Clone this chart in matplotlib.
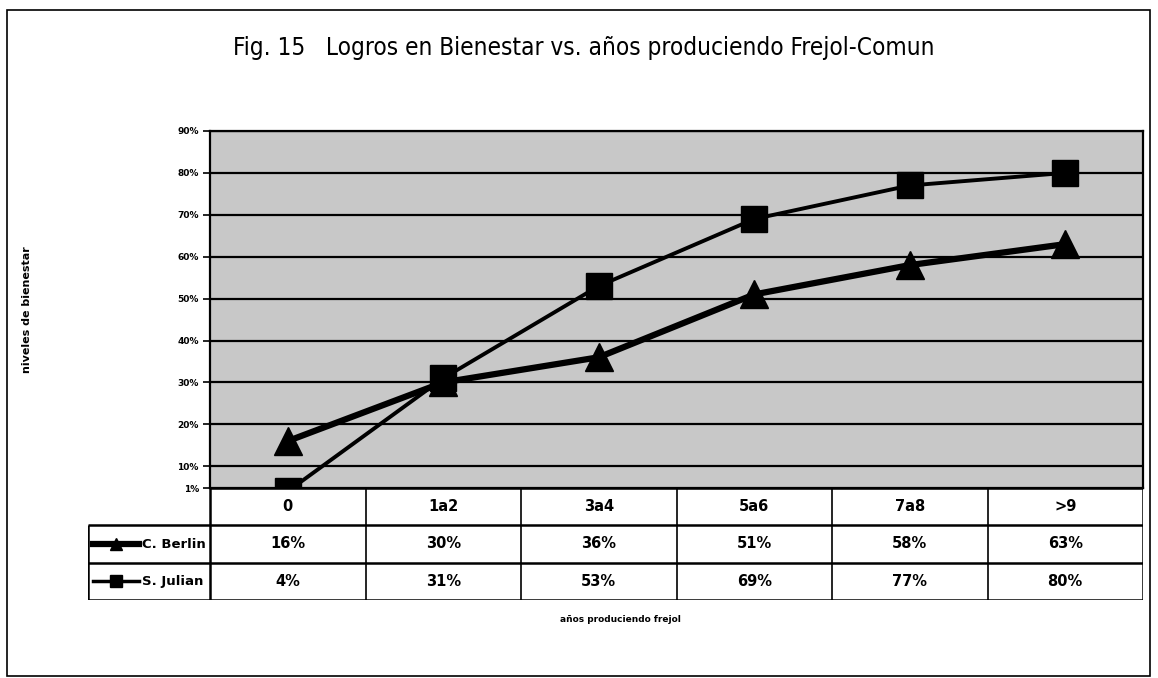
import numpy as np
import matplotlib.pyplot as plt
from matplotlib.lines import Line2D
from matplotlib.patches import Rectangle
from matplotlib import font_manager

categories = ['0', '1a2', '3a4', '5a6', '7a8', '>9']
berlin = [16, 30, 36, 51, 58, 63]
julian = [4, 31, 53, 69, 77, 80]
series_names = ['C. Berlin', 'S. Julian']
yticks = [10, 20, 30, 40, 50, 60, 70, 80, 90]
y_bottom = 4.8

names = {f.name for f in font_manager.fontManager.ttflist}
condensed = [f for f in font_manager.fontManager.ttflist
             if 'Narrow' in f.name or 'Condensed' in f.name or f.stretch in ('condensed', 'semi-condensed')]
if 'Liberation Sans Narrow' in names:
    title_font = dict(family='Liberation Sans Narrow')
elif condensed:
    title_font = dict(family=condensed[0].name, stretch=condensed[0].stretch)
else:
    title_font = dict(family='DejaVu Sans', stretch='condensed')

W, H = 1158, 678
fig = plt.figure(figsize=(W / 100, H / 100), dpi=100)


def fx(px):
    return px / W


def fy(py):
    return 1 - py / H


# outer frame
fig.patches.append(Rectangle((fx(7), fy(676)), fx(1150) - fx(7), fy(10) - fy(676),
                             transform=fig.transFigure, fill=False, lw=1.2, ec='black'))

fig.text(fx(584), fy(48), 'Fig. 15   Logros en Bienestar vs. años produciendo Frejol-Comun',
         ha='center', va='center', fontsize=17.5, **title_font)

# plot area
ax = fig.add_axes([fx(210), fy(488), fx(1143) - fx(210), fy(131) - fy(488)])
ax.set_facecolor('#c8c8c8')
x = np.arange(len(categories))
ax.set_xlim(-0.5, len(categories) - 0.5)
ax.set_ylim(y_bottom, 90)
for t in yticks:
    ax.axhline(t, color='black', lw=1.6, zorder=1)
ax.plot(x, berlin, color='black', lw=4.5, marker='^', markersize=20, zorder=3)
ax.plot(x, julian, color='black', lw=2.8, marker='s', markersize=19, zorder=3)
ax.set_yticks([y_bottom] + yticks)
ax.set_yticklabels(['1%'] + ['%d%%' % t for t in yticks], fontsize=6.5, fontweight='bold')
ax.tick_params(axis='y', length=5, width=1.2, pad=3)
ax.set_xticks([])
for s in ax.spines.values():
    s.set_linewidth(1.6)

# data table below the plot
head_w = (210 - 88) / ((1143 - 210) / len(categories))
tab = fig.add_axes([fx(88), fy(600), fx(1143) - fx(88), fy(488) - fy(600)])
tab.set_xlim(-0.5 - head_w, len(categories) - 0.5)
tab.set_ylim(0, 3)
tab.axis('off')
left = -0.5 - head_w
right = len(categories) - 0.5
kw = dict(color='black', lw=1.8, solid_capstyle='butt')
tab.plot([-0.5, right], [3, 3], **kw)
tab.plot([left, right], [2, 2], **kw)
tab.plot([left, right], [1, 1], **kw)
tab.plot([left, right], [0, 0], **kw)
tab.plot([left, left], [0, 2], **kw)
tab.plot([-0.5, -0.5], [0, 3], **kw)
tab.plot([right, right], [0, 3], **kw)
for i in range(1, len(categories)):
    tab.plot([i - 0.5, i - 0.5], [0, 3], color='black', lw=1.2)

for i, c in enumerate(categories):
    tab.text(i, 2.5, c, ha='center', va='center', fontsize=10.5, fontweight='bold')
    tab.text(i, 1.5, '%d%%' % berlin[i], ha='center', va='center', fontsize=10.5, fontweight='bold')
    tab.text(i, 0.5, '%d%%' % julian[i], ha='center', va='center', fontsize=10.5, fontweight='bold')

# legend keys inside row headers
key_x0, key_x1 = left + 0.03, left + 0.33
tab.add_line(Line2D([key_x0, key_x1], [1.5, 1.5], color='black', lw=4.5))
tab.plot([(key_x0 + key_x1) / 2], [1.5], marker='^', color='black', markersize=9)
tab.add_line(Line2D([key_x0, key_x1], [0.5, 0.5], color='black', lw=2.5))
tab.plot([(key_x0 + key_x1) / 2], [0.5], marker='s', color='black', markersize=9)
tab.text(key_x1 + 0.02, 1.5, series_names[0], ha='left', va='center', fontsize=9.5, fontweight='bold')
tab.text(key_x1 + 0.02, 0.5, series_names[1], ha='left', va='center', fontsize=9.5, fontweight='bold')

fig.text(fx(27), fy(310), 'niveles de bienestar', rotation=90, ha='center', va='center',
         fontsize=8, fontweight='bold')
fig.text(fx(620), fy(620), 'años produciendo frejol', ha='center', va='center',
         fontsize=6.5, fontweight='bold')

fig.savefig('out.png', dpi=100)
